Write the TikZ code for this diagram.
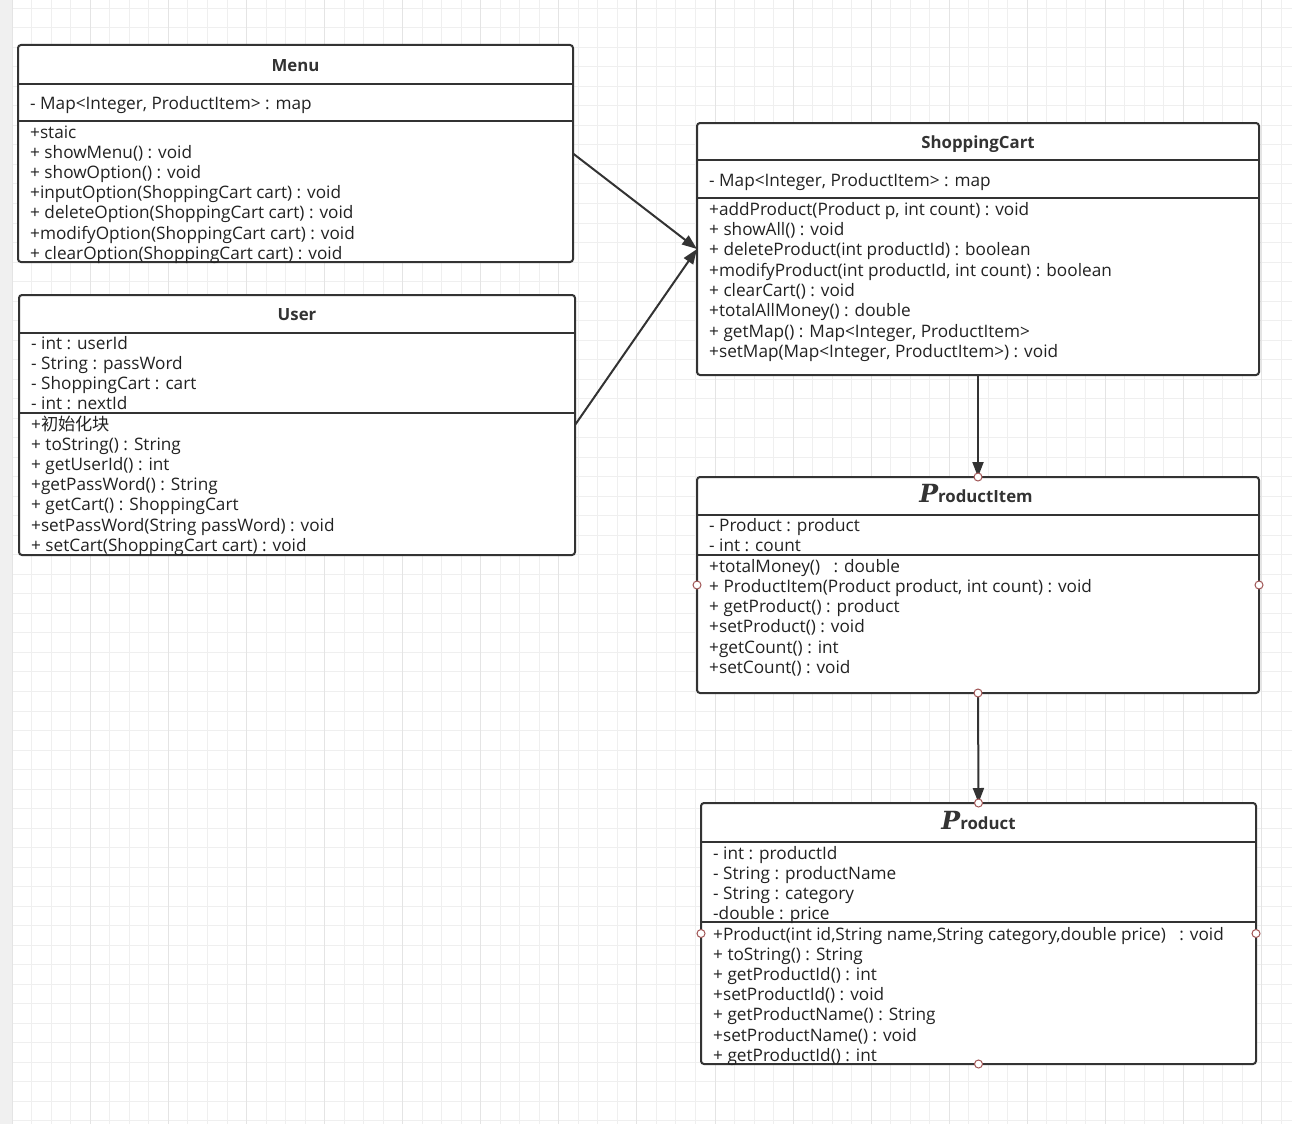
\documentclass[tikz,border=0pt]{standalone}
\usepackage{fontspec}
\setmainfont{Open Sans}
\newfontfamily\cjk{Noto Sans CJK SC}
\newfontfamily\pfont{DejaVu Serif}
\usetikzlibrary{arrows.meta}
\definecolor{ink}{HTML}{333333}
\definecolor{txt}{HTML}{222222}
\definecolor{gridminor}{HTML}{EFEFEF}
\definecolor{gridmajor}{HTML}{E4E4E4}
\definecolor{strip}{HTML}{F0F0F0}
\definecolor{dotc}{HTML}{A05555}
\tikzset{
  umlbox/.style={draw=ink, fill=white, line width=2pt, rounded corners=3pt, anchor=north west, inner sep=0pt, outer sep=0pt},
  divider/.style={draw=ink, line width=2pt},
  mem/.style={anchor=base west, inner sep=0pt, text=txt, font=\fontsize{17.2}{19}\selectfont},
  ttl/.style={anchor=base, inner sep=0pt, text=ink, font=\fontsize{16.8}{19}\selectfont\bfseries},
  conn/.style={draw=ink, line width=2pt, -{Triangle[length=15pt,width=11pt]}},
  pt/.style={circle, draw=dotc, fill=white, line width=1pt, minimum size=8pt, inner sep=0pt},
}
\newcommand{\bigP}{{\pfont\bfseries\itshape\fontsize{25}{25}\selectfont P}}
\begin{document}
\begin{tikzpicture}[x=1pt,y=-1pt]
\useasboundingbox (0,0) rectangle (1292,1124);
% background grid
\fill[white] (0,0) rectangle (1292,1124);
\fill[strip] (0,0) rectangle (12,1124);
\foreach \i in {0,...,65} {\pgfmathsetmacro\xx{12.3+19.52*\i}\draw[gridminor, line width=1pt] (\xx,0) -- (\xx,1124);}
\foreach \j in {0,...,57} {\pgfmathsetmacro\yy{8.3+19.52*\j}\draw[gridminor, line width=1pt] (12,\yy) -- (1292,\yy);}
\foreach \i in {0,4,...,64} {\pgfmathsetmacro\xx{12.3+19.52*\i}\draw[gridmajor, line width=1pt] (\xx,0) -- (\xx,1124);}

% ---------- Menu ----------
\node[umlbox, minimum width=555pt, minimum height=217pt] (menu) at (18,45) {};
\draw[divider] (18,84) -- (573,84);
\draw[divider] (18,121) -- (573,121);
\node[ttl] (menut) at (295.5,71) {Menu};
\node[mem] (menua1) at (30,109.3) {- Map<Integer, ProductItem> : map};
\foreach \t [count=\i from 0] in {{+staic},{+ showMenu() : void},{+ showOption() : void},{+inputOption(ShoppingCart cart) : void},{+ deleteOption(ShoppingCart cart) : void},{+modifyOption(ShoppingCart cart) : void},{+ clearOption(ShoppingCart cart) : void}}
  {\node[mem] (menum\i) at (30,138.3+20.17*\i) {\t};}

% ---------- User ----------
\node[umlbox, minimum width=556pt, minimum height=260pt] (user) at (19,295) {};
\draw[divider] (19,333) -- (575,333);
\draw[divider] (19,413) -- (575,413);
\node[ttl] (usert) at (297,320) {User};
\foreach \t [count=\i from 0] in {{- int : userId},{- String : passWord},{- ShoppingCart : cart},{- int : nextId}}
  {\node[mem] (usera\i) at (31,349.3+20.2*\i) {\t};}
\foreach \t [count=\i from 0] in {{+{\cjk 初始化块}},{+ toString() : String},{+ getUserId() : int},{+getPassWord() : String},{+ getCart() : ShoppingCart},{+setPassWord(String passWord) : void},{+ setCart(ShoppingCart cart) : void}}
  {\node[mem] (userm\i) at (31,430.3+20.17*\i) {\t};}

% ---------- ShoppingCart ----------
\node[umlbox, minimum width=562pt, minimum height=252pt] (cart) at (697,123) {};
\draw[divider] (697,160) -- (1259,160);
\draw[divider] (697,198) -- (1259,198);
\node[ttl] (cartt) at (978,148) {ShoppingCart};
\node[mem] (carta1) at (709,186.3) {- Map<Integer, ProductItem> : map};
\foreach \t [count=\i from 0] in {{+addProduct(Product p, int count) : void},{+ showAll() : void},{+ deleteProduct(int productId) : boolean},{+modifyProduct(int productId, int count) : boolean},{+ clearCart() : void},{+totalAllMoney() : double},{+ getMap() : Map<Integer, ProductItem>},{+setMap(Map<Integer, ProductItem>) : void}}
  {\node[mem] (cartm\i) at (709,215.3+20.29*\i) {\t};}

% ---------- ProductItem ----------
\node[umlbox, minimum width=562pt, minimum height=216pt] (pi) at (697,477) {};
\draw[divider] (697,515) -- (1259,515);
\draw[divider] (697,555) -- (1259,555);
\node[ttl] (pit) at (976,502) {\bigP roductItem};
\foreach \t [count=\i from 0] in {{- Product : product},{- int : count}}
  {\node[mem] (pia\i) at (709,531.3+20*\i) {\t};}
\foreach \t [count=\i from 0] in {{+totalMoney()\ \ \ : double},{+ ProductItem(Product product, int count) : void},{+ getProduct() : product},{+setProduct() : void},{+getCount() : int},{+setCount() : void}}
  {\node[mem] (pim\i) at (709,572.3+20.2*\i) {\t};}

% ---------- Product ----------
\node[umlbox, minimum width=555pt, minimum height=261pt] (prod) at (701,803) {};
\draw[divider] (701,842) -- (1256,842);
\draw[divider] (701,922) -- (1256,922);
\node[ttl] (prodt) at (978.5,829) {\bigP roduct};
\foreach \t [count=\i from 0] in {{- int : productId},{- String : productName},{- String : category},{-double : price}}
  {\node[mem] (proda\i) at (713,859.3+20*\i) {\t};}
\foreach \t [count=\i from 0] in {{+Product(int id,String name,String category,double price)\ \ \ : void},{+ toString() : String},{+ getProductId() : int},{+setProductId() : void},{+ getProductName() : String},{+setProductName() : void},{+ getProductId() : int}}
  {\node[mem] (prodm\i) at (713,940.3+20.17*\i) {\t};}

% ---------- connectors ----------
\draw[conn] (menu.east) -- (cart.west);
\draw[conn] (user.east) -- (cart.west);
\draw[conn] (cart.south) -- (pi.north);
\draw[conn] (pi.south) -- (prod.north);

% ---------- connection points ----------
\node[pt] (p1) at (pi.north) {};
\node[pt] (p2) at (pi.west) {};
\node[pt] (p3) at (pi.east) {};
\node[pt] (p4) at (pi.south) {};
\node[pt] (p5) at (prod.north) {};
\node[pt] (p6) at (prod.west) {};
\node[pt] (p7) at (prod.east) {};
\node[pt] (p8) at (prod.south) {};
\end{tikzpicture}
\end{document}
